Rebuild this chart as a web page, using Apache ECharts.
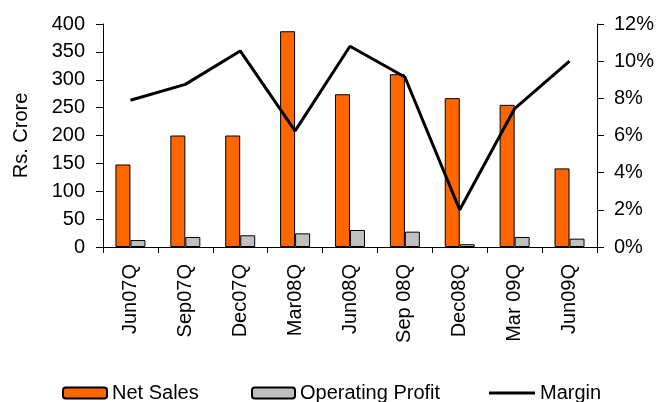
<!DOCTYPE html>
<html>
<head>
<meta charset="utf-8">
<script src="https://cdn.jsdelivr.net/npm/echarts@6/dist/echarts.min.js"></script>
<style>html,body{margin:0;padding:0;background:#fff}#c{width:657px;height:402px}</style>
</head>
<body>
<div id="c"></div>
<script>
var categories = ['Jun07Q','Sep07Q','Dec07Q','Mar08Q','Jun08Q','Sep 08Q','Dec08Q','Mar 09Q','Jun09Q'];
var netSales = [148, 200, 200, 387, 274, 310, 267, 255, 141];
var operatingProfit = [12.5, 18, 21, 24.5, 30.5, 27.5, 5, 18, 15];
var margin = [7.9, 8.75, 10.55, 6.25, 10.8, 9.15, 2.0, 7.45, 10.0];
var leftTicks = [0, 50, 100, 150, 200, 250, 300, 350, 400];
var rightTicks = [0, 2, 4, 6, 8, 10, 12];

var FONT = 'Liberation Sans';
var FS = 20;
var chart = echarts.init(document.getElementById('c'), null, {renderer: 'canvas'});
var axisLine = {show: true, lineStyle: {color: '#000', width: 1}};
var legendText = {fontFamily: FONT, fontSize: FS, color: '#000'};
chart.setOption({
  animation: false,
  textStyle: {fontFamily: FONT, color: '#000'},
  grid: {left: 103, right: 60, top: 24, bottom: 155},
  legend: [
    {data: ['Net Sales'], left: 57, top: 378, itemWidth: 44, itemHeight: 11, itemGap: 0, textStyle: legendText},
    {data: ['Operating Profit'], left: 246, top: 378, itemWidth: 43, itemHeight: 11, itemGap: 0, textStyle: legendText},
    {data: [{name: 'Margin', icon: 'rect'}], left: 484, top: 378, itemWidth: 46, itemHeight: 3, itemGap: 0, textStyle: legendText}
  ],
  xAxis: {
    type: 'category', data: categories,
    axisLine: axisLine,
    axisTick: {show: true, inside: false, length: 6, lineStyle: {color: '#000'}},
    axisLabel: {rotate: 90, margin: 17, fontFamily: FONT, fontSize: FS, color: '#000'},
    splitLine: {show: false}
  },
  yAxis: [
    {type: 'value', min: 0, max: 400, interval: 50, position: 'left',
     name: 'Rs. Crore', nameLocation: 'middle', nameGap: 72, nameRotate: 90,
     nameTextStyle: {fontFamily: FONT, fontSize: FS, color: '#000'},
     axisLine: axisLine,
     axisTick: {show: true, length: 7, lineStyle: {color: '#000'}},
     axisLabel: {margin: 18, fontFamily: FONT, fontSize: FS, color: '#000',
       formatter: function (v) { return leftTicks.indexOf(v) >= 0 ? String(v) : ''; }},
     splitLine: {show: false}},
    {type: 'value', min: 0, max: 12, interval: 2, position: 'right',
     axisLine: axisLine,
     axisTick: {show: true, length: 7, lineStyle: {color: '#000'}},
     axisLabel: {margin: 17, fontFamily: FONT, fontSize: FS, color: '#000',
       formatter: function (v) { return rightTicks.indexOf(v) >= 0 ? v + '%' : ''; }},
     splitLine: {show: false}}
  ],
  series: [
    {name: 'Net Sales', type: 'bar', yAxisIndex: 0, data: netSales, barWidth: 15, barGap: '0%',
     itemStyle: {color: '#FF6600', borderColor: '#000', borderWidth: 1}},
    {name: 'Operating Profit', type: 'bar', yAxisIndex: 0, data: operatingProfit, barWidth: 15, barGap: '0%',
     itemStyle: {color: '#C0C0C0', borderColor: '#000', borderWidth: 1}},
    {name: 'Margin', type: 'line', yAxisIndex: 1, data: margin, symbol: 'none', showSymbol: false,
     lineStyle: {color: '#000', width: 3}, itemStyle: {color: '#000'}, z: 5}
  ]
});
</script>
</body>
</html>
